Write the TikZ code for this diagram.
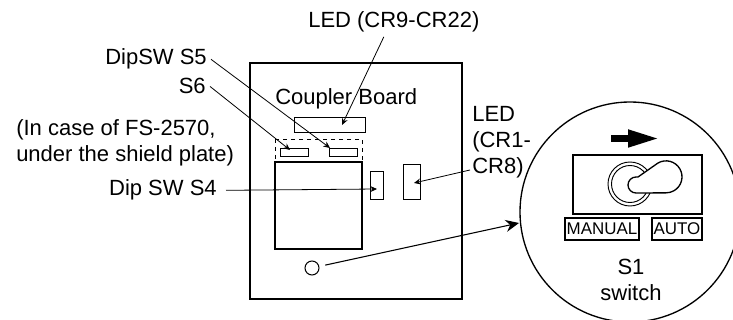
\documentclass[tikz,border=0pt]{standalone}
\usepackage{fontspec}
\setmainfont{Liberation Sans}
\usetikzlibrary{arrows.meta}
\tikzset{
  txt/.style={font=\fontsize{16.5}{19.5}\selectfont,inner sep=3pt},
  tag/.style={draw,line width=0.9pt,font=\fontsize{12.7}{14}\selectfont,inner sep=0pt},
  part/.style={line width=0.7pt},
  wall/.style={line width=1pt},
  lead/.style={line width=0.6pt,-{Stealth[length=5pt,width=4.5pt]}},
}
\begin{document}
\begin{tikzpicture}[x=0.75pt,y=-0.75pt]
\clip (0,0) rectangle (733,320);
% board
\draw[wall] (250,63) rectangle (462,299);
\draw[wall] (275,162) rectangle (362,249);
\draw[part] (294,117) rectangle (365,132);
\draw[part,dashed] (275,139) rectangle (362,162);
\draw[part] (280,148) rectangle (308,156);
\draw[part] (329,148) rectangle (357,156);
\draw[part] (370,171) rectangle (383,199);
\draw[part] (403,164) rectangle (420,199);
\node[draw,circle,line width=0.8pt,minimum size=10.5pt,inner sep=0pt] (knob) at (312,268) {};
% labels
\node[txt,anchor=base west] (coupler) at (271,105) {Coupler Board};
\node[txt,anchor=base west] (ledtop) at (304,28) {LED (CR9-CR22)};
\node[txt,anchor=base east] (dipfive) at (211,65) {DipSW S5};
\node[txt,anchor=base east] (dipsix) at (210,94) {S6};
\node[txt,anchor=north west,align=left] (shield) at (12,115) {(In case of FS-2570,\\under the shield plate)};
\node[txt,anchor=base east] (dipfour) at (221,196) {Dip SW S4};
\node[txt,anchor=north west,align=left] (ledside) at (468,102) {LED\\(CR1-\\CR8)};
% leads
\coordinate (tipfive) at (330,148);
\coordinate (tipsix) at (290,150);
\coordinate (tipfour) at (377,189);
\coordinate (tiptop) at (342,125);
\coordinate (tipside) at (414,183);
\coordinate (fromside) at (470,170);
\coordinate (tipzoom) at (519,223);
\draw[lead] (dipfive.east) -- (tipfive);
\draw[lead] (dipsix.east) -- (tipsix);
\draw[lead] ([xshift=3.75pt]dipfour.east) -- (tipfour);
\draw[lead] ([xshift=-7.5pt]ledtop.south) -- (tiptop);
\draw[lead] (fromside) -- (tipside);
\draw[line width=0.8pt,shorten <=4.5pt,-{Stealth[length=10pt,width=9pt]}] (knob) -- (tipzoom);
% enlarged switch
\draw[wall] (630,212) circle (110);
\draw[line width=5.25pt,-{Triangle[length=24pt,width=12pt]}] (611,138.5) -- (660,138.5);
\draw[wall] (573,155) rectangle (702,214);
\draw[part] (630,184) circle (22);
\draw[part] (630,184) circle (18.5);
\draw[wall,fill=white,line join=round] (638,177) -- (658,163) arc[start angle=-120,end angle=90,radius=16]
  -- (636,193) arc[start angle=90,end angle=270,radius=8] -- cycle;
\node[tag,minimum width=55.5pt,minimum height=16.5pt] (manual) at (602,229) {MANUAL};
\node[tag,minimum width=37.5pt,minimum height=16.5pt] (auto) at (677,229) {AUTO};
\node[txt,align=center] (sone) at (631,280) {S1\\switch};
\end{tikzpicture}
\end{document}
